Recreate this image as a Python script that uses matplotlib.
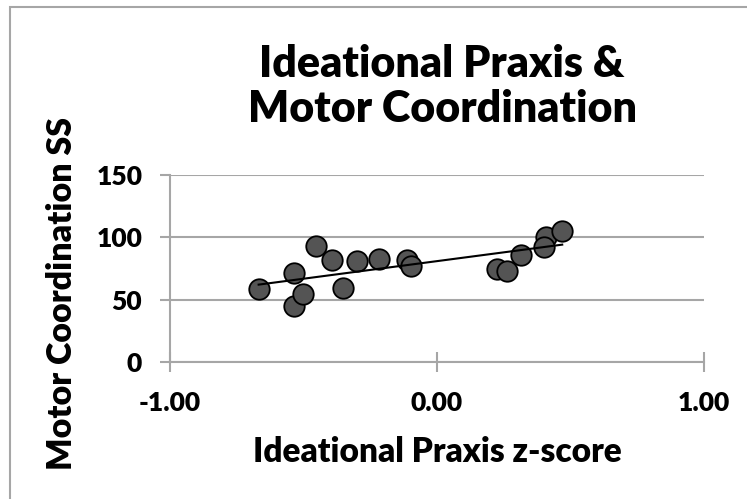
import numpy as np
import matplotlib
matplotlib.use("Agg")
import matplotlib.pyplot as plt
from matplotlib.patches import Rectangle

# Data
praxis_z = [-0.668, -0.534, -0.534, -0.502, -0.452, -0.395, -0.352, -0.298,
            -0.216, -0.111, -0.098, 0.223, 0.262, 0.316, 0.409, 0.402, 0.469]
motor_ss = [58.9, 71.0, 44.7, 54.4, 93.2, 82.0, 59.5, 81.2,
            83.0, 81.7, 77.1, 74.5, 72.6, 85.7, 99.9, 92.4, 105.0]
x_ticks = [-1.0, 0.0, 1.0]
x_tick_labels = ["-1.00", "0.00", "1.00"]
y_ticks = [0, 50, 100, 150]
title_lines = ["Ideational Praxis &", "Motor Coordination"]
x_label = "Ideational Praxis z-score"
y_label = "Motor Coordination SS"

W, H = 747, 499
fig = plt.figure(figsize=(W / 100, H / 100), dpi=100)
fam = ["Lato", "DejaVu Sans"]

# outer chart border
fig.patches.append(Rectangle((9.5 / W, -0.1), 2.0, 1.1 - 6.5 / H - 0.0,
                             transform=fig.transFigure, fill=False,
                             edgecolor="#a6a6a6", linewidth=1.5))

ax = fig.add_axes([170 / W, 1 - 362 / H, (704 - 170) / W, (362 - 175) / H])
ax.set_xlim(-1, 1)
ax.set_ylim(0, 150)

gray = "#a6a6a6"
for s in ["top", "right"]:
    ax.spines[s].set_visible(False)
for s in ["left", "bottom"]:
    ax.spines[s].set_color(gray)
    ax.spines[s].set_linewidth(1.5)
ax.yaxis.grid(True, color=gray, linewidth=1.5)
ax.set_axisbelow(True)

ax.set_xticks(x_ticks)
ax.set_xticklabels(x_tick_labels)
ax.set_yticks(y_ticks)
ax.tick_params(axis="x", direction="inout", length=14, width=1.5, color=gray,
               pad=14)
ax.tick_params(axis="y", direction="out", length=7, width=1.5, color=gray,
               pad=13)
for lab in ax.get_xticklabels() + ax.get_yticklabels():
    lab.set_fontfamily(fam)
    lab.set_fontweight("heavy")
    lab.set_fontsize(19)

ax.scatter(praxis_z, motor_ss, s=21 * 21 * 0.72 * 0.72 * 0.95, c="#545454",
           edgecolors="black", linewidths=1.3, zorder=3)

# linear trendline
coef = np.polyfit(praxis_z, motor_ss, 1)
xs = np.array([min(praxis_z), max(praxis_z)])
ax.plot(xs, np.polyval(coef, xs), color="black", linewidth=1.5, zorder=4)

fig.text(442 / W, 1 - 77 / H, title_lines[0], ha="center", va="baseline",
         fontsize=31, fontweight="heavy", family=fam)
fig.text(442 / W, 1 - 122 / H, title_lines[1], ha="center", va="baseline",
         fontsize=31, fontweight="heavy", family=fam)
fig.text(437 / W, 1 - 462 / H, x_label, ha="center", va="baseline",
         fontsize=24, fontweight="heavy", family=fam)
fig.text(62 / W, 1 - 293 / H, y_label, ha="center", va="center",
         rotation=90, fontsize=24.5, fontweight="heavy", family=fam)

fig.savefig("out.png", dpi=100)
